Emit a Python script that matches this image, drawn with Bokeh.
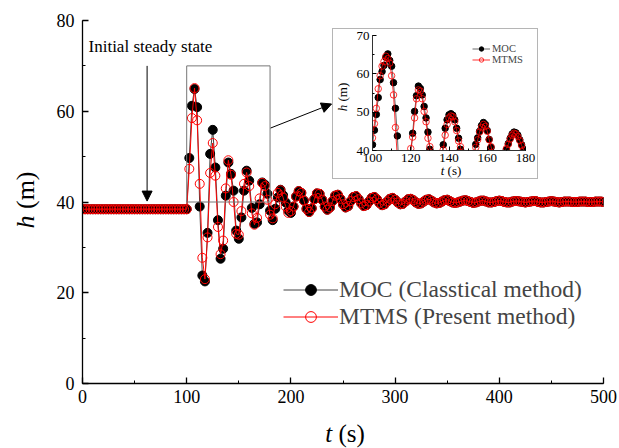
import numpy as np
from bokeh.plotting import figure
from bokeh.models import (Range1d, Label, Arrow, NormalHead, Legend, LegendItem,
                          SingleIntervalTicker, ColumnDataSource, Div)
from bokeh.layouts import column
from bokeh.embed import file_html
from bokeh.resources import INLINE

# ---------------- data ----------------
T_STEP = 2.5                      # main-plot sampling interval (s)
H_STEADY = 38.4                   # initial steady head (m), 0 - 100 s
N_STEADY = 41

MOC_TRANSIENT = [49.7, 61.2, 64.9, 60.9, 39.0, 23.8, 22.5, 33.2, 50.6, 55.9,
                 47.6, 36.0, 27.5, 29.7, 41.4, 48.7, 46.2, 42.5, 33.7, 31.9,
                 36.6, 42.5, 46.9, 44.7, 38.7, 35.2, 35.5, 39.5, 44.3, 43.8,
                 41.8, 38.1, 36.0, 38.5, 41.0, 42.7, 41.5, 39.9, 38.1, 37.6]
MTMS_TRANSIENT = [47.3, 58.5, 65.1, 58.0, 44.0, 27.7, 23.0, 32.2, 46.4, 53.0,
                  45.8, 34.5, 28.5, 31.5, 43.0, 49.2, 46.0, 40.0, 33.0, 32.8,
                  38.0, 44.0, 46.5, 43.5, 37.5, 35.0, 36.5, 40.8, 44.2, 43.5,
                  40.5, 37.2, 36.4, 39.5, 42.0, 42.6, 41.0, 39.0, 37.6, 38.0]
TAIL = [39.0, 41.2, 42.4, 42.0, 40.3, 38.5, 37.8, 38.6, 40.6, 41.9,
        41.8, 40.5, 39.0, 38.3, 38.8, 40.2, 41.4, 41.6, 40.7, 39.5,
        38.8, 39.1, 40.2, 41.1, 41.3, 40.6, 39.7, 39.1, 39.3, 40.1,
        40.9, 41.1, 40.6, 39.8, 39.3, 39.5, 40.1, 40.7, 40.9, 40.5,
        39.9, 39.5, 39.6, 40.1, 40.6, 40.7, 40.4, 39.9, 39.6, 39.7,
        40.1, 40.5, 40.6, 40.3, 39.9, 39.7, 39.8, 40.1, 40.4, 40.5,
        40.2, 39.9, 39.8, 39.9, 40.1, 40.3, 40.4, 40.2, 40.0, 39.8,
        39.9, 40.1, 40.3, 40.3, 40.1, 39.9, 39.9, 40.0, 40.2, 40.3,
        40.2, 40.0, 39.9, 39.9, 40.1, 40.2, 40.2, 40.1, 40.0, 39.9,
        40.0, 40.1, 40.2, 40.2, 40.0, 39.9, 39.9, 40.0, 40.1, 40.2,
        40.1, 40.0, 39.9, 40.0, 40.1, 40.1, 40.1, 40.0, 40.0, 40.0,
        40.1, 40.1, 40.1, 40.0, 40.0, 40.0, 40.1, 40.1, 40.1, 40.0]

# inset (zoom of 100-180 s, 1 s sampling)
INSET_T0 = 100
INSET_T_RANGE = (100, 180)
INSET_H_RANGE = (40, 70)
INSET_MOC = [41.5, 45.3, 49.4, 53.8, 58.5, 60.6, 62.2, 64.3, 65.2, 63.5,
             62.0, 57.7, 51.0, 43.8, 34.0, 26.0, 22.5, 22.5, 26.0, 32.0,
             38.5, 44.5, 50.2, 54.3, 56.8, 56.2, 54.5, 51.5, 48.5, 44.8,
             40.3, 33.0, 28.5, 27.5, 29.5, 33.0, 37.0, 41.5, 45.8, 48.0,
             49.3, 49.6, 49.2, 48.0, 45.8, 43.2, 40.3, 35.0, 33.0, 32.0,
             32.5, 34.0, 36.5, 39.0, 41.6, 43.3, 45.0, 46.5, 47.3, 46.8,
             45.2, 42.9, 40.8, 38.5, 36.5, 35.3, 35.0, 35.5, 37.0, 38.8,
             40.2, 41.8, 43.2, 44.3, 44.8, 44.6, 44.0, 42.8, 41.5, 40.3,
             38.8]
INSET_MTMS = [43.3, 47.0, 51.0, 56.1, 59.5, 62.0, 63.2, 64.6, 64.0, 62.8,
              59.5, 54.5, 46.0, 38.0, 30.0, 24.0, 22.8, 23.5, 28.0, 34.0,
              40.5, 43.5, 48.5, 53.5, 55.8, 55.5, 53.5, 50.2, 47.5, 43.2,
              41.0, 35.0, 29.5, 28.0, 29.0, 32.0, 36.0, 40.2, 44.0, 46.8,
              48.5, 49.0, 48.8, 47.5, 45.2, 42.5, 41.0, 37.0, 34.0, 32.5,
              32.5, 33.5, 35.5, 38.0, 40.8, 42.8, 44.8, 46.0, 46.8, 46.3,
              45.0, 42.8, 41.0, 38.8, 36.8, 35.5, 35.2, 35.8, 37.2, 38.9,
              40.5, 41.6, 43.0, 44.0, 44.5, 44.3, 43.6, 42.6, 41.3, 40.1,
              39.0]

LABEL_MOC = "MOC (Classtical method)"
LABEL_MTMS = "MTMS (Present method)"
SERIF = "Liberation Serif"

moc_h = [H_STEADY] * N_STEADY + MOC_TRANSIENT + TAIL
mtms_h = [H_STEADY] * N_STEADY + MTMS_TRANSIENT + TAIL
t_main = np.arange(len(moc_h)) * T_STEP
t_inset = INSET_T0 + np.arange(len(INSET_MOC))

# ---------------- main figure ----------------
p = figure(width=619, height=448, min_border_left=82, min_border_right=16,
           min_border_top=20, min_border_bottom=65,
           x_range=Range1d(0, 500), y_range=Range1d(0, 80),
           output_backend="svg", toolbar_location=None)
p.frame_align = False
p.outline_line_color = None
p.xgrid.visible = False
p.ygrid.visible = False
p.background_fill_color = "white"
p.border_fill_color = "white"

p.xaxis.ticker = SingleIntervalTicker(interval=100, num_minor_ticks=2)
p.yaxis.ticker = SingleIntervalTicker(interval=20, num_minor_ticks=2)
for ax in (p.xaxis, p.yaxis):
    ax.major_tick_in = 6
    ax.major_tick_out = 0
    ax.minor_tick_in = 3
    ax.minor_tick_out = 0
    ax.axis_line_width = 1.3
    ax.major_tick_line_width = 1.3
    ax.major_label_text_font = SERIF
    ax.major_label_text_font_size = "18px"
    ax.major_label_text_color = "black"
    ax.axis_line_color = "black"
p.xaxis.major_label_standoff = 6
p.yaxis.major_label_standoff = 8

src_moc = ColumnDataSource(dict(t=t_main, h=moc_h))
src_mtms = ColumnDataSource(dict(t=t_main, h=mtms_h))
l1 = p.line("t", "h", source=src_moc, line_color="#444444", line_width=1)
s1 = p.scatter("t", "h", source=src_moc, marker="circle", size=9,
               fill_color="black", line_color="black")
l2 = p.line("t", "h", source=src_mtms, line_color="red", line_width=1)
s2 = p.scatter("t", "h", source=src_mtms, marker="circle", size=9,
               fill_color=None, line_color="red", line_width=1)

legend = Legend(items=[LegendItem(label=LABEL_MOC, renderers=[l1, s1]),
                       LegendItem(label=LABEL_MTMS, renderers=[l2, s2])],
                location=(201, 53), glyph_width=55, glyph_height=27, label_height=27,
                spacing=0, padding=0, margin=0, label_standoff=1,
                label_text_font=SERIF, label_text_font_size="23.5px",
                border_line_color=None, background_fill_alpha=0)
p.add_layout(legend)

# zoom rectangle
p.quad(left=[INSET_T_RANGE[0]], right=[INSET_T_RANGE[1]], bottom=[INSET_H_RANGE[0]],
       top=[INSET_H_RANGE[1]], fill_color=None, line_color="#777777", line_width=1)

# annotations
p.add_layout(Label(x=5.8, y=72.2, text="Initial steady state", text_font=SERIF,
                   text_font_size="17px", text_color="black"))
p.add_layout(Arrow(end=NormalHead(size=10, fill_color="black", line_color="black"),
                   x_start=62, y_start=70.0, x_end=62, y_end=40.2,
                   line_color="black", line_width=1))
p.add_layout(Arrow(end=NormalHead(size=10, fill_color="black", line_color="black"),
                   x_start=180.5, y_start=56.3, x_end=239, y_end=61.6,
                   line_color="black", line_width=1))

# ---------------- inset ----------------
ins = figure(width=206, height=151, min_border_left=39, min_border_right=14,
             min_border_top=6, min_border_bottom=30,
             x_range=Range1d(*INSET_T_RANGE), y_range=Range1d(*INSET_H_RANGE),
             output_backend="svg", toolbar_location=None)
ins.frame_align = False
ins.outline_line_color = None
ins.xgrid.visible = False
ins.ygrid.visible = False
ins.xaxis.ticker = SingleIntervalTicker(interval=20, num_minor_ticks=2)
ins.yaxis.ticker = SingleIntervalTicker(interval=10, num_minor_ticks=2)
for ax in (ins.xaxis, ins.yaxis):
    ax.major_tick_in = 4
    ax.major_tick_out = 0
    ax.minor_tick_in = 2
    ax.minor_tick_out = 0
    ax.axis_line_color = "#333333"
    ax.major_label_text_font = SERIF
    ax.major_label_text_font_size = "13px"
    ax.major_label_text_color = "black"
ins.xaxis.major_label_standoff = 3
ins.yaxis.major_label_standoff = 3

isrc_moc = ColumnDataSource(dict(t=t_inset, h=INSET_MOC))
isrc_mtms = ColumnDataSource(dict(t=t_inset, h=INSET_MTMS))
il1 = ins.line("t", "h", source=isrc_moc, line_color="#444444", line_width=0.8)
is1 = ins.scatter("t", "h", source=isrc_moc, marker="circle", size=6.5,
                  fill_color="black", line_color="black")
il2 = ins.line("t", "h", source=isrc_mtms, line_color="red", line_width=0.8)
is2 = ins.scatter("t", "h", source=isrc_mtms, marker="circle", size=6.5,
                  fill_color=None, line_color="red", line_width=0.8)
ileg = Legend(items=[LegendItem(label="MOC", renderers=[il1, is1]),
                     LegendItem(label="MTMS", renderers=[il2, is2])],
              location=(100, 85), glyph_width=18, glyph_height=11, label_height=11,
              spacing=0, padding=0, margin=0, label_standoff=2,
              label_text_font=SERIF, label_text_font_size="10.5px",
              border_line_color=None, background_fill_alpha=0)
ins.add_layout(ileg)
ins.styles = {"position": "absolute", "left": "332px", "top": "28px",
              "border": "1px solid #b5b5b5", "background-color": "white",
              "z-index": "10"}


def title_div(html, size, cx, cy, w, h, rotate=False):
    st = {"position": "absolute", "left": f"{cx - w / 2}px", "top": f"{cy - h / 2}px",
          "width": f"{w}px", "height": f"{h}px", "z-index": "20",
          "overflow": "visible"}
    if rotate:
        st["transform"] = "rotate(-90deg)"
        st["transform-origin"] = "50% 50%"
    inner = (f'<div style="width:{w}px;height:{h}px;display:flex;align-items:center;'
             f'justify-content:center;white-space:nowrap;font-family:\'{SERIF}\';'
             f'font-size:{size}px;color:black;line-height:1;">{html}</div>')
    return Div(text=inner, width=w, height=h, styles=st)


d_yt = title_div("<i>h</i>&nbsp;(m)", 26, 21, 195, 90, 30, rotate=True)
d_xt = title_div("<i>t</i>&nbsp;(s)", 25, 340, 428, 90, 22)
d_iyt = title_div("<i>h</i>&nbsp;(m)", 13, 337, 92, 50, 16, rotate=True)
d_ixt = title_div("<i>t</i>&nbsp;(s)", 13, 446, 165, 50, 14)

root = column(p, ins, d_yt, d_xt, d_iyt, d_ixt, spacing=0)
root.styles = {"position": "relative"}
open("out.html", "w").write(file_html(root, INLINE))
